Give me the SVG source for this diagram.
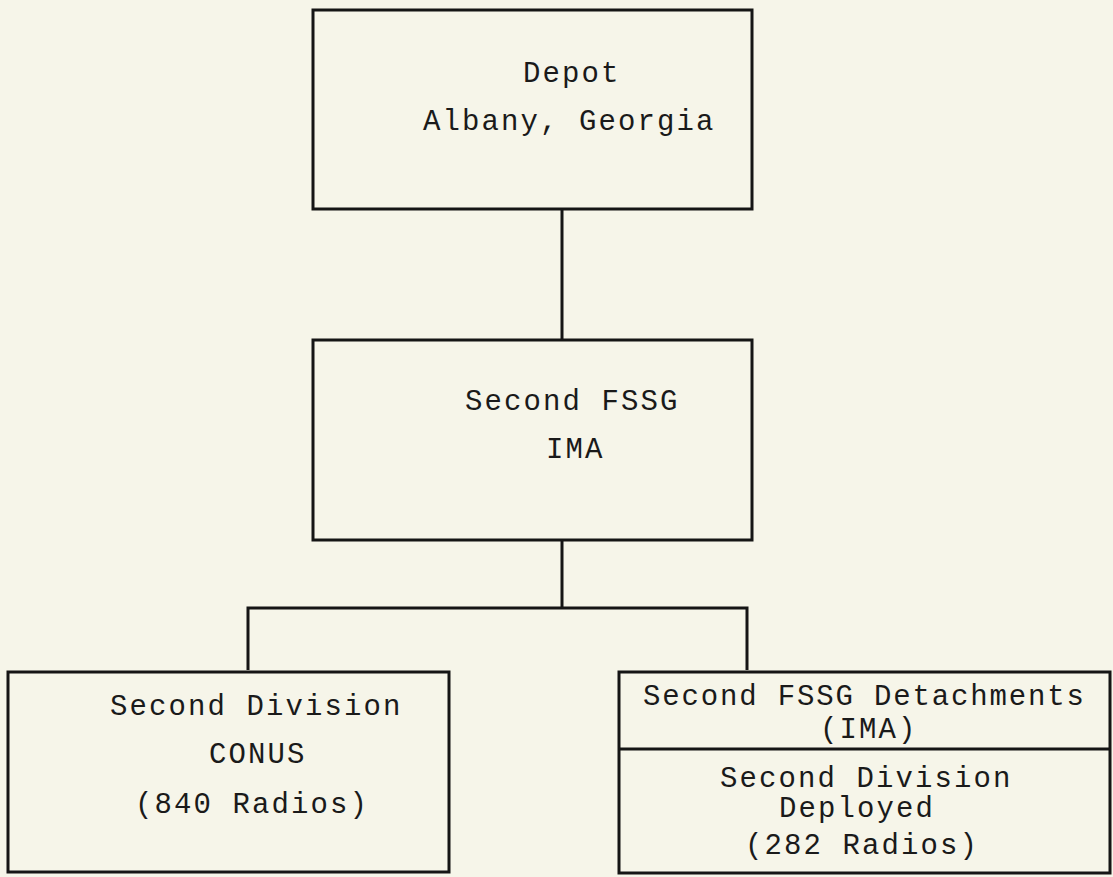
<svg xmlns="http://www.w3.org/2000/svg" width="1113" height="877" viewBox="0 0 1113 877">
<style>
.box{fill:none;stroke:#151515;stroke-width:3}
.ln{fill:none;stroke:#151515;stroke-width:3}
text{font-family:"Liberation Mono","Courier New",monospace;font-size:29px;letter-spacing:2.1px;fill:#1a1a1a}
</style>
<rect width="1113" height="877" fill="#f6f5e9"/>
<g id="connectors">
<line class="ln" x1="562" y1="209" x2="562" y2="340"/>
<line class="ln" x1="562" y1="540" x2="562" y2="608"/>
<polyline class="ln" points="248,670 248,608 747,608 747,670"/>
</g>
<g id="depot">
<rect class="box" x="313" y="10" width="439" height="199"/>
<text x="523" y="82">Depot</text>
<text x="423" y="130">Albany, Georgia</text>
</g>
<g id="fssg">
<rect class="box" x="313" y="340" width="439" height="200"/>
<text x="465" y="410">Second FSSG</text>
<text x="546" y="458">IMA</text>
</g>
<g id="division-conus">
<rect class="box" x="8" y="672" width="441" height="200"/>
<text x="110" y="715">Second Division</text>
<text x="209" y="763">CONUS</text>
<text x="135" y="813">(840 Radios)</text>
</g>
<g id="detachments">
<rect class="box" x="619" y="672" width="491" height="201"/>
<line class="ln" x1="619" y1="749" x2="1110" y2="749"/>
<text x="643" y="705" style="letter-spacing:1.85px">Second FSSG Detachments</text>
<text x="820" y="738">(IMA)</text>
<text x="720" y="787">Second Division</text>
<text x="779" y="817">Deployed</text>
<text x="745" y="854">(282 Radios)</text>
</g>
</svg>
